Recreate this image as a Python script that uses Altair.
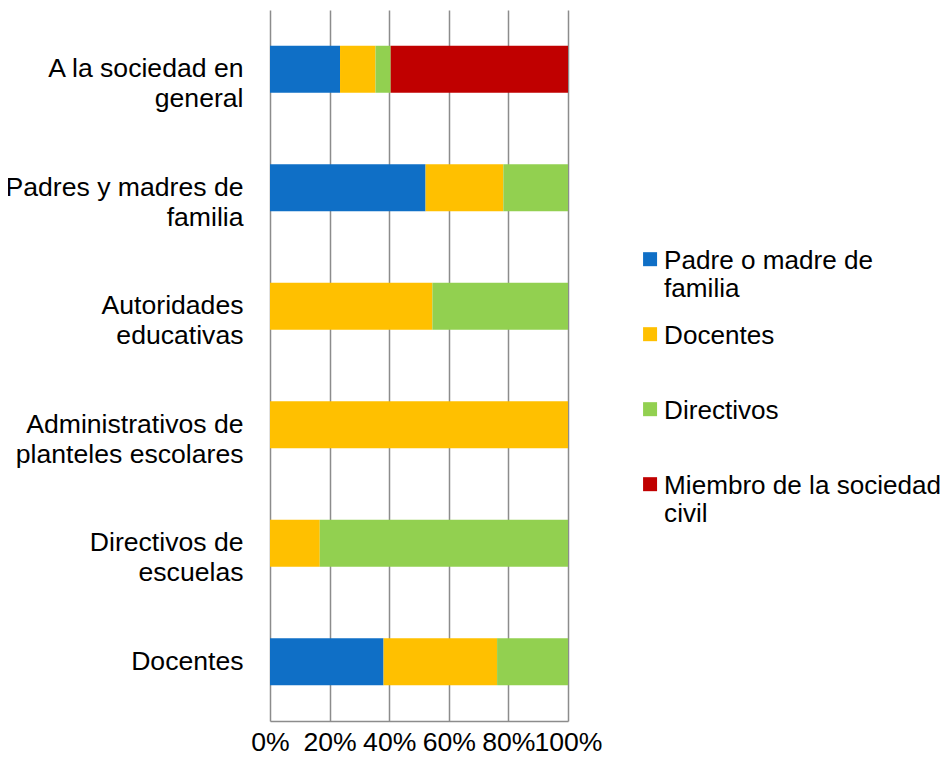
import altair as alt
import pandas as pd

categories = [
    "A la sociedad en\ngeneral",
    "Padres y madres de\nfamilia",
    "Autoridades\neducativas",
    "Administrativos de\nplanteles escolares",
    "Directivos de\nescuelas",
    "Docentes",
]
series = ["Padre o madre de\nfamilia", "Docentes", "Directivos", "Miembro de la sociedad\ncivil"]
colors = ["#0F6FC6", "#FFC000", "#92D050", "#C00000"]

padre = [23.5, 52.2, 0, 0, 0, 38.1]
docentes = [11.9, 26.1, 54.5, 100, 16.7, 38.1]
directivos = [5.1, 21.7, 45.5, 0, 83.3, 23.8]
miembro = [59.5, 0, 0, 0, 0, 0]

x_ticks = [0, 20, 40, 60, 80, 100]

rows = []
for j, (s, vals) in enumerate(zip(series, [padre, docentes, directivos, miembro])):
    for i, c in enumerate(categories):
        rows.append({"cat": c, "serie": s, "val": vals[i], "ord": j})
df = pd.DataFrame(rows)

FONT = "Liberation Sans"
FS = 26.6
LFS = 26.1
GRID = "#8c8c8c"

chart = alt.Chart(df).mark_bar(size=47).encode(
    y=alt.Y("cat:N", sort=categories, title=None,
            scale=alt.Scale(paddingInner=0.6, paddingOuter=0.3),
            axis=alt.Axis(domain=False, ticks=False, grid=False,
                          labelExpr="split(datum.label, '\\n')",
                          labelFont=FONT, labelFontSize=FS, labelColor="black",
                          labelLineHeight=30, labelPadding=27, labelLimit=400)),
    x=alt.X("val:Q", stack="zero", title=None,
            scale=alt.Scale(domain=[0, 100], nice=False),
            axis=alt.Axis(values=x_ticks, labelExpr="datum.value + '%'",
                          domain=True, domainColor=GRID, domainWidth=1.5,
                          ticks=False, grid=True, gridColor=GRID, gridWidth=1.5,
                          labelFont=FONT, labelFontSize=FS, labelColor="black",
                          labelPadding=8, labelFlush=False, labelOverlap=False)),
    color=alt.Color("serie:N", sort=series,
                    scale=alt.Scale(domain=series, range=colors),
                    legend=alt.Legend(title=None, orient="none", legendX=368, legendY=225,
                                      labelExpr="split(datum.label, '\\n')",
                                      labelBaseline="top",
                                      labelFont=FONT, labelFontSize=LFS, labelColor="black",
                                      labelLimit=400, labelOffset=0,
                                      symbolType="M-1.14,0.59H0.86V2.59H-1.14Z",
                                      symbolSize=196, symbolStrokeWidth=0,
                                      rowPadding=7, gridAlign="all", padding=0)),
    order=alt.Order("ord:Q"),
).properties(
    width=298, height=711,
    autosize=alt.AutoSizeParams(type="none"),
    padding={"left": 262, "top": 2, "right": 373, "bottom": 36},
).configure_view(stroke=None)

chart.save("out.html", embed_options={"renderer": "svg", "actions": False})
